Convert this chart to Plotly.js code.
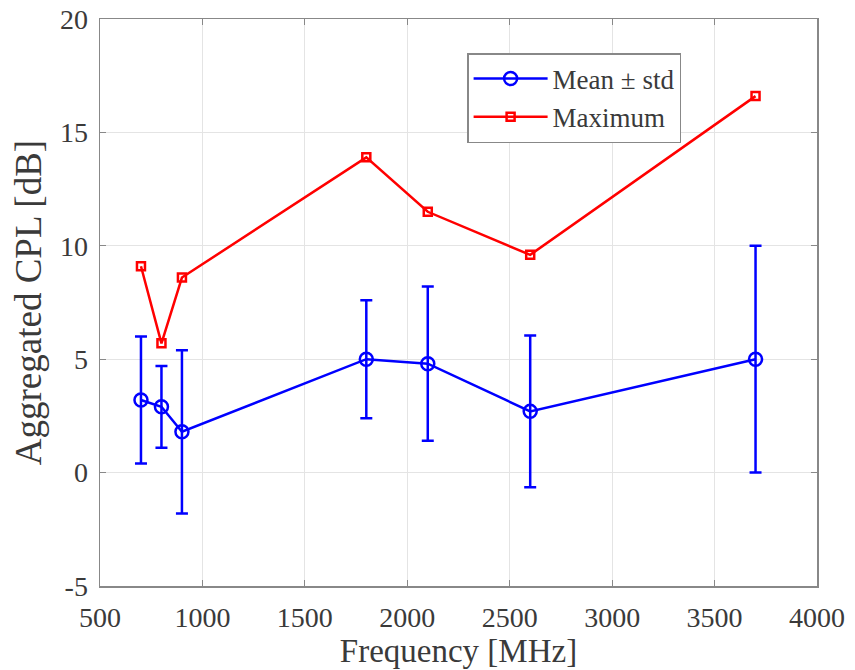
<!DOCTYPE html>
<html>
<head>
<meta charset="utf-8">
<script src="https://cdn.plot.ly/plotly-3.0.1.min.js"></script>
<style>
  html, body { margin: 0; padding: 0; background: #fff; }
  #chart { width: 855px; height: 670px; }
</style>
</head>
<body>
<div id="chart"></div>
<script>
// Frequency bands [MHz]
const freqs = [700, 800, 900, 1800, 2100, 2600, 3700];
// Aggregated CPL statistics [dB]
const meanCPL = [3.2, 2.9, 1.8, 5.0, 4.8, 2.7, 5.0];
const stdCPL  = [2.8, 1.8, 3.6, 2.6, 3.4, 3.35, 5.0];
const maxCPL  = [9.1, 5.7, 8.6, 13.9, 11.5, 9.6, 16.6];

const xTicks = [500, 1000, 1500, 2000, 2500, 3000, 3500, 4000];
const yTicks = [-5, 0, 5, 10, 15, 20];

const serif = 'Liberation Serif, Times New Roman, serif';
const textColor = '#3a3a3a';

const traces = [
  {
    x: freqs, y: meanCPL, name: 'Mean \u00b1 std',
    type: 'scatter', mode: 'lines+markers',
    line: { color: '#0000ff', width: 2.5 },
    marker: { symbol: 'circle-open', size: 13, color: '#0000ff', line: { width: 2.5, color: '#0000ff' } },
    error_y: { type: 'data', array: stdCPL, visible: true, color: '#0000ff', thickness: 2.5, width: 6 }
  },
  {
    x: freqs, y: maxCPL, name: 'Maximum',
    type: 'scatter', mode: 'lines+markers',
    line: { color: '#ff0000', width: 2.5 },
    marker: { symbol: 'square-open', size: 8, color: '#ff0000', line: { width: 2.5, color: '#ff0000' } }
  }
];

const axisCommon = {
  showline: true, mirror: 'ticks', linecolor: '#888888', linewidth: 1.5,
  ticks: 'inside', ticklen: 6, tickcolor: '#888888', tickwidth: 1,
  showgrid: true, gridcolor: '#e4e4e4', gridwidth: 1,
  zeroline: false,
  tickfont: { family: serif, size: 28, color: textColor }
};

const layout = {
  width: 855, height: 670,
  margin: { l: 100, r: 38, t: 19, b: 84 },
  paper_bgcolor: '#ffffff', plot_bgcolor: '#ffffff',
  showlegend: true,
  legend: {
    x: 0.512, y: 0.94, xanchor: 'left', yanchor: 'top',
    bgcolor: '#ffffff', bordercolor: '#888888', borderwidth: 1.5,
    font: { family: serif, size: 27, color: textColor },
    tracegroupgap: 0, itemwidth: 74
  },
  xaxis: Object.assign({}, axisCommon, {
    range: [500, 4000], tickvals: xTicks, ticktext: xTicks.map(String),
    ticklabelstandoff: 6,
    title: { text: 'Frequency [MHz]', font: { family: serif, size: 33, color: textColor }, standoff: 3 }
  }),
  yaxis: Object.assign({}, axisCommon, {
    range: [-5, 20], tickvals: yTicks, ticktext: yTicks.map(String),
    ticklabelstandoff: 5,
    title: { text: 'Aggregated CPL [dB]', font: { family: serif, size: 37, color: textColor }, standoff: 7 }
  })
};

Plotly.newPlot('chart', traces, layout, { staticPlot: true, displayModeBar: false });
</script>
</body>
</html>
